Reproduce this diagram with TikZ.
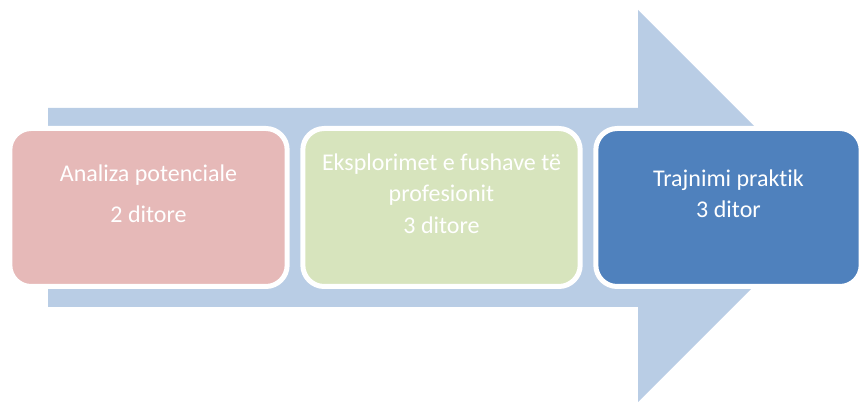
\documentclass[tikz,border=0pt]{standalone}
\usepackage{fontspec}
\setmainfont{Carlito}[Ligatures=NoCommon]
\definecolor{arrowblue}{HTML}{B9CDE5}
\definecolor{boxpink}{HTML}{E6B9B8}
\definecolor{boxgreen}{HTML}{D7E4BD}
\definecolor{boxblue}{HTML}{4F81BD}
\tikzset{
    etapa/.style={draw=white, line width=3.75pt, rounded corners=16pt,
        minimum width=208pt, minimum height=118.5pt, inner sep=0pt},
    teksti/.style={text=white, align=center, font=\fontsize{18}{23.6}\selectfont}
}
\begin{document}
\begin{tikzpicture}[x=0.75pt, y=0.75pt]
    % Kufiri
    \useasboundingbox (0,0) rectangle (860,403);

    % Shigjeta e madhe
    \fill[arrowblue] (48,96) -- (48,295) -- (638,295) -- (638,393) -- (834,197)
        -- (638,1) -- (638,96) -- cycle;

    % Kutite
    \node[etapa, fill=boxpink] (b1) at (148.5,195.5) {};
    \node[etapa, fill=boxgreen] (b2) at (441.5,195.5) {};
    \node[etapa, fill=boxblue, minimum width=199pt] (b3) at (728.5,195.5) {};

    % Tekstet
    \node[teksti] (t1) at ([yshift=10.5pt]b1.center) {Analiza potenciale\\[7pt]2 ditore};
    \node[teksti] (t2) at ([yshift=10.5pt]b2.center) {Eksplorimet e fushave të\\profesionit\\3 ditore};
    \node[teksti] (t3) at ([yshift=10.5pt]b3.center) {Trajnimi praktik\\3 ditor};
\end{tikzpicture}
\end{document}
